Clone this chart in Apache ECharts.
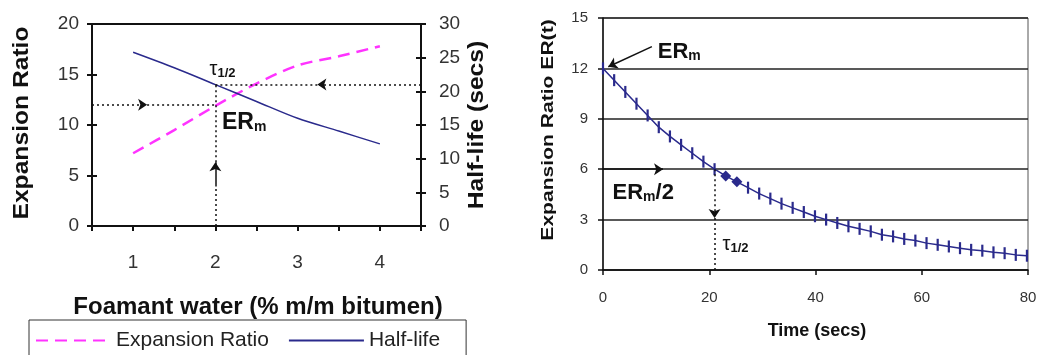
<!DOCTYPE html>
<html>
<head>
<meta charset="utf-8">
<script src="https://cdn.jsdelivr.net/npm/echarts@6/dist/echarts.min.js"></script>
<style>
  html, body { margin: 0; padding: 0; background: #fff; }
  #ec { width: 1040px; height: 355px; }
</style>
</head>
<body>
<div id="ec"></div>
<script>
// left chart: foamant water vs expansion ratio / half-life
const foamWater = [1, 1.5, 2, 2.5, 3, 3.5, 4]
const expansionRatio = [7.2, 9.5, 11.9, 14.1, 15.9, 16.8, 17.8]
const halfLife = [25.8, 23.5, 21.0, 18.5, 16.0, 14.1, 12.2]

// right chart: decay of expansion ratio with time
const decayTime = [0, 2.1, 4.2, 6.3, 8.4, 10.5, 12.6, 14.7, 16.8, 18.9, 21, 23.1, 25.2,
  27.3, 29.4, 31.5, 33.6, 35.7, 37.8, 39.9, 42, 44.1, 46.2, 48.3, 50.4, 52.5, 54.6,
  56.7, 58.8, 60.9, 63, 65.1, 67.2, 69.3, 71.4, 73.5, 75.6, 77.7, 79.8]
const decayER = [12.0, 11.3, 10.6, 9.9, 9.2, 8.5, 7.95, 7.45, 6.95, 6.45, 6.0, 5.6, 5.25,
  4.9, 4.55, 4.25, 3.95, 3.7, 3.45, 3.2, 3.0, 2.8, 2.6, 2.45, 2.3, 2.1, 2.0,
  1.85, 1.75, 1.6, 1.5, 1.4, 1.3, 1.2, 1.15, 1.05, 1.0, 0.9, 0.85]
const highlighted = [11, 12]

const FONT = '"Liberation Sans", Arial, sans-serif'
const NAVY = '#2a2a8c'
const MAGENTA = '#ff33ff'

const dotted = { color: '#111', width: 1.5, type: [2, 3] }
const solid = { color: '#111', width: 1.5, type: 'solid' }

function seg(a, b, ls, arrow) {
  return [
    { coord: a, symbol: 'none' },
    { coord: b, symbol: arrow ? 'arrow' : 'none', symbolSize: 9, lineStyle: ls }
  ]
}

const rich = {
  b: { fontFamily: FONT, fontWeight: 'bold', fontSize: 23, color: '#111' },
  s: { fontFamily: FONT, fontWeight: 'bold', fontSize: 14, color: '#111', padding: [9, 0, 0, 0] },
  t: { fontFamily: FONT, fontSize: 20, color: '#111' },
  r: { fontFamily: FONT, fontWeight: 'bold', fontSize: 22, color: '#111' },
  rs: { fontFamily: FONT, fontWeight: 'bold', fontSize: 14, color: '#111', padding: [9, 0, 0, 0] },
  ts: { fontFamily: FONT, fontWeight: 'bold', fontSize: 13, color: '#111', padding: [7, 0, 0, 0] }
}

function textPoint(coord, text) {
  return {
    coord: coord,
    symbol: 'circle',
    symbolSize: 0,
    label: { show: true, position: 'right', distance: 0, formatter: text, rich: rich }
  }
}

const chart = echarts.init(document.getElementById('ec'))
chart.setOption({
  animation: false,
  textStyle: { fontFamily: FONT },
  grid: [
    { left: 92, top: 24, width: 329, height: 202, show: true, borderColor: '#111', borderWidth: 2 },
    { left: 603, top: 18, width: 425, height: 252, show: true, borderColor: '#555', borderWidth: 1 }
  ],
  legend: {
    data: ['Expansion Ratio', 'Half-life'],
    left: 29,
    top: 320,
    padding: [10, 26, 30, 6],
    itemWidth: 75,
    itemHeight: 20,
    itemGap: 19,
    borderColor: '#333',
    borderWidth: 1,
    selectedMode: false,
    itemStyle: { opacity: 0 },
    textStyle: { fontFamily: FONT, fontSize: 21, color: '#222' }
  },
  xAxis: [
    {
      gridIndex: 0, type: 'value', min: 0.5, max: 4.5, interval: 0.5,
      axisLine: { lineStyle: { color: '#111', width: 2 } },
      axisTick: { length: 5, lineStyle: { color: '#111', width: 2 } },
      splitLine: { show: false },
      axisLabel: {
        margin: 27, fontSize: 19, color: '#333',
        formatter: v => Number.isInteger(v) ? String(v) : ''
      }
    },
    {
      gridIndex: 0, type: 'value', min: 0.5, max: 4.5, interval: 0.5,
      axisLine: { show: false },
      axisTick: { inside: true, length: 5, lineStyle: { color: '#111', width: 2 } },
      splitLine: { show: false },
      axisLabel: { show: false }
    },
    {
      gridIndex: 1, type: 'value', min: 0, max: 80, interval: 20,
      axisLine: { lineStyle: { color: '#111', width: 1.5 } },
      axisTick: { length: 5, lineStyle: { color: '#111', width: 1.5 } },
      splitLine: { show: false },
      axisLabel: { margin: 20, fontSize: 15, color: '#333' }
    }
  ],
  yAxis: [
    {
      gridIndex: 0, type: 'value', min: 0, max: 20, interval: 5, position: 'left',
      axisLine: { show: true, lineStyle: { color: '#111', width: 2 } },
      axisTick: { show: true, length: 5, lineStyle: { color: '#111', width: 2 } },
      splitLine: { show: false },
      axisLabel: { margin: 13, fontSize: 19, color: '#333' }
    },
    {
      gridIndex: 0, type: 'value', min: 0, max: 30, interval: 5, position: 'right',
      axisLine: { show: true, lineStyle: { color: '#111', width: 2 } },
      axisTick: { show: true, length: 5, lineStyle: { color: '#111', width: 2 } },
      splitLine: { show: false },
      axisLabel: { margin: 18, fontSize: 19, color: '#333' }
    },
    {
      gridIndex: 0, type: 'value', min: 0, max: 20, interval: 5, position: 'left',
      axisLine: { show: false },
      axisTick: { show: true, inside: true, length: 5, lineStyle: { color: '#111', width: 2 } },
      splitLine: { show: false },
      axisLabel: { show: false }
    },
    {
      gridIndex: 0, type: 'value', min: 0, max: 30, interval: 5, position: 'right',
      axisLine: { show: false },
      axisTick: { show: true, inside: true, length: 5, lineStyle: { color: '#111', width: 2 } },
      splitLine: { show: false },
      axisLabel: { show: false }
    },
    {
      gridIndex: 1, type: 'value', min: 0, max: 15, interval: 3,
      axisLine: { show: true, lineStyle: { color: '#111', width: 1.5 } },
      axisTick: { show: true, length: 5, lineStyle: { color: '#111', width: 1.5 } },
      splitLine: { show: true, lineStyle: { color: '#222', width: 1.5 } },
      axisLabel: { margin: 15, fontSize: 15, color: '#333' }
    }
  ],
  graphic: [
    {
      type: 'text', x: 22, y: 123, rotation: Math.PI / 2, scaleX: 1.12,
      style: { text: 'Expansion Ratio', font: 'bold 22px ' + FONT, fill: '#111', align: 'center', verticalAlign: 'middle' }
    },
    {
      type: 'text', x: 477, y: 125, rotation: Math.PI / 2, scaleX: 1.12,
      style: { text: 'Half-life (secs)', font: 'bold 22px ' + FONT, fill: '#111', align: 'center', verticalAlign: 'middle' }
    },
    {
      type: 'text', x: 258, y: 307,
      style: { text: 'Foamant water (% m/m bitumen)', font: 'bold 24px ' + FONT, fill: '#111', align: 'center', verticalAlign: 'middle' }
    },
    {
      type: 'text', x: 548, y: 130, rotation: Math.PI / 2, scaleX: 1.24,
      style: { text: 'Expansion Ratio ER(t)', font: 'bold 17px ' + FONT, fill: '#111', align: 'center', verticalAlign: 'middle' }
    },
    {
      type: 'text', x: 817, y: 331,
      style: { text: 'Time (secs)', font: 'bold 18px ' + FONT, fill: '#111', align: 'center', verticalAlign: 'middle' }
    }
  ],
  series: [
    {
      name: 'Expansion Ratio',
      type: 'line',
      xAxisIndex: 0,
      yAxisIndex: 0,
      smooth: 0.3,
      symbol: 'none',
      color: MAGENTA,
      lineStyle: { color: MAGENTA, width: 2.5, type: [12, 7] },
      data: foamWater.map((x, i) => [x, expansionRatio[i]]),
      markLine: {
        silent: true,
        animation: false,
        label: { show: false },
        data: [
          seg([0.5, 12], [1.17, 12], dotted, true),
          seg([1.17, 12], [2, 12], dotted, false),
          seg([2, 0], [2, 3.9], dotted, false),
          seg([2, 3.9], [2, 6.3], solid, true),
          seg([2, 6.3], [2, 14], dotted, false)
        ]
      },
      markPoint: {
        silent: true,
        animation: false,
        data: [
          textPoint([1.93, 15.5], '{t|τ}{ts|1/2}'),
          textPoint([2.08, 10.2], '{b|ER}{s|m}')
        ]
      }
    },
    {
      name: 'Half-life',
      type: 'line',
      xAxisIndex: 0,
      yAxisIndex: 1,
      smooth: 0.3,
      symbol: 'none',
      color: NAVY,
      lineStyle: { color: NAVY, width: 1.5 },
      data: foamWater.map((x, i) => [x, halfLife[i]]),
      markLine: {
        silent: true,
        animation: false,
        label: { show: false },
        data: [
          seg([4.5, 21], [3.24, 21], dotted, true),
          seg([3.24, 21], [2, 21], dotted, false)
        ]
      }
    },
    {
      name: 'ER(t)',
      type: 'line',
      xAxisIndex: 2,
      yAxisIndex: 4,
      symbol: 'rect',
      symbolSize: [2.2, 12],
      showAllSymbol: true,
      color: NAVY,
      itemStyle: { color: NAVY },
      lineStyle: { color: NAVY, width: 1.5 },
      data: decayTime.map((t, i) => highlighted.includes(i)
        ? { value: [t, decayER[i]], symbol: 'diamond', symbolSize: 11 }
        : [t, decayER[i]]),
      markLine: {
        silent: true,
        animation: false,
        label: { show: false },
        data: [
          seg([9.2, 13.3], [1.0, 12.1], solid, true),
          seg([0, 6], [11.3, 6], solid, true),
          seg([21, 6], [21, 3.1], dotted, true),
          seg([21, 3.1], [21, 0], dotted, false)
        ]
      },
      markPoint: {
        silent: true,
        animation: false,
        data: [
          textPoint([10.3, 13.0], '{r|ER}{rs|m}'),
          textPoint([1.8, 4.6], '{r|ER}{rs|m}{r|/2}'),
          textPoint([22.5, 1.5], '{t|τ}{ts|1/2}')
        ]
      }
    }
  ]
})
window.addEventListener('resize', () => {
  chart.resize()
})
</script>
</body>
</html>
